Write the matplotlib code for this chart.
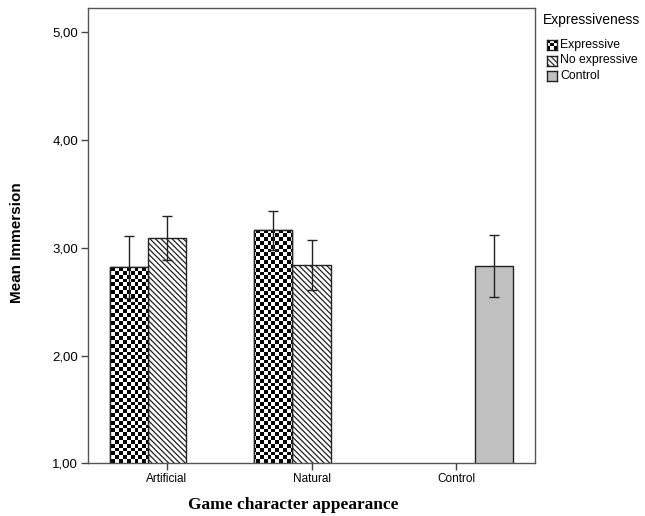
import numpy as np
import matplotlib.pyplot as plt
import matplotlib as mpl

categories = ["Artificial", "Natural", "Control"]
groups = ["Expressive", "No expressive", "Control"]
expressive = [2.82, 3.16, None]
expressive_err = [0.29, 0.18, None]
no_expressive = [3.09, 2.84, None]
no_expressive_err = [0.205, 0.23, None]
control = [None, None, 2.83]
control_err = [None, None, 0.285]
yticks = [1, 2, 3, 4, 5]

plt.rcParams["font.family"] = ["Liberation Sans", "DejaVu Sans"]
plt.rcParams["hatch.linewidth"] = 0.9
plt.rcParams["hatch.color"] = "#333333"

fig = plt.figure(figsize=(6.45, 5.16), dpi=100)
ax = fig.add_axes([88 / 645, 1 - 463.3 / 516, 447 / 645, 455.3 / 516])

XLIM = (-0.547, 2.547)
YLIM = (1.0, 5.224)
W = 0.264
EDGE = "#222222"
HATCH = "\\\\\\\\\\\\"

# checkerboard fill, about 3.8 px per cell
ncol, nrow = int(447 / 3.8), int(455 / 3.8)
checker = (np.add.outer(np.arange(nrow), np.arange(ncol)) % 2).astype(float)

series = [
    (expressive, expressive_err, -W, dict(color="white")),
    (no_expressive, no_expressive_err, 0.0, dict(color="white", hatch=HATCH)),
    (control, control_err, W, dict(color="#c0c0c0")),
]

for i, (vals, errs, off, style) in enumerate(series):
    xs = [k + off for k, v in enumerate(vals) if v is not None]
    vs = [v for v in vals if v is not None]
    es = [e for e in errs if e is not None]
    bars = ax.bar(xs, vs, width=W, edgecolor=EDGE, linewidth=1.0, zorder=2, **style)
    if i == 0:
        for b in bars:
            im = ax.imshow(checker, extent=(*XLIM, *YLIM), cmap="gray",
                           interpolation="nearest", aspect="auto", zorder=2.1)
            im.set_clip_path(b)
        ax.bar(xs, vs, width=W, facecolor="none", edgecolor=EDGE,
               linewidth=1.0, zorder=2.2)
    ax.errorbar(xs, vs, yerr=es, fmt="none", ecolor="#222222", elinewidth=1.0,
                capsize=3.6, capthick=1.0, zorder=3)

ax.set_xlim(*XLIM)
ax.set_ylim(*YLIM)
ax.set_xticks(range(len(categories)))
ax.set_xticklabels(categories, fontsize=8.5)
ax.set_yticks(yticks)
ax.set_yticklabels([f"{t:.2f}".replace(".", ",") for t in yticks], fontsize=9.5)
ax.tick_params(length=5, width=1.0, color="#444444", pad=2)
for s in ax.spines.values():
    s.set_color("#555555")
    s.set_linewidth(1.0)

ax.set_ylabel("Mean Immersion", fontsize=11, fontweight="bold", va="center")
ax.yaxis.set_label_coords(-0.159, 0.484)
ax.set_xlabel("Game character appearance", fontsize=12.5, fontweight="bold",
              family=["Liberation Serif", "DejaVu Serif"], va="center")
ax.xaxis.set_label_coords(0.459, -0.0916)

# legend drawn by hand so the checker swatch can be shown
fig.text(543 / 645, 1 - 20 / 516, "Expressiveness", fontsize=10, va="center")
sw = 10
for j, name in enumerate(groups):
    yc = 45 + j * 15.5
    sax = fig.add_axes([547 / 645, 1 - (yc + sw / 2) / 516, sw / 645, sw / 516])
    sax.set_xticks([])
    sax.set_yticks([])
    for s in sax.spines.values():
        s.set_color(EDGE)
        s.set_linewidth(1.0)
    if j == 0:
        sax.imshow(np.add.outer(np.arange(3), np.arange(3)) % 2, cmap="gray",
                   interpolation="nearest", aspect="auto")
    elif j == 1:
        sax.add_patch(mpl.patches.Rectangle((0, 0), 1, 1, facecolor="white",
                                            hatch=HATCH, edgecolor="#333333",
                                            linewidth=0, transform=sax.transAxes))
    else:
        sax.set_facecolor("#c0c0c0")
    fig.text(560 / 645, 1 - yc / 516, name, fontsize=8.8, va="center")

fig.savefig("out.png", dpi=100)
